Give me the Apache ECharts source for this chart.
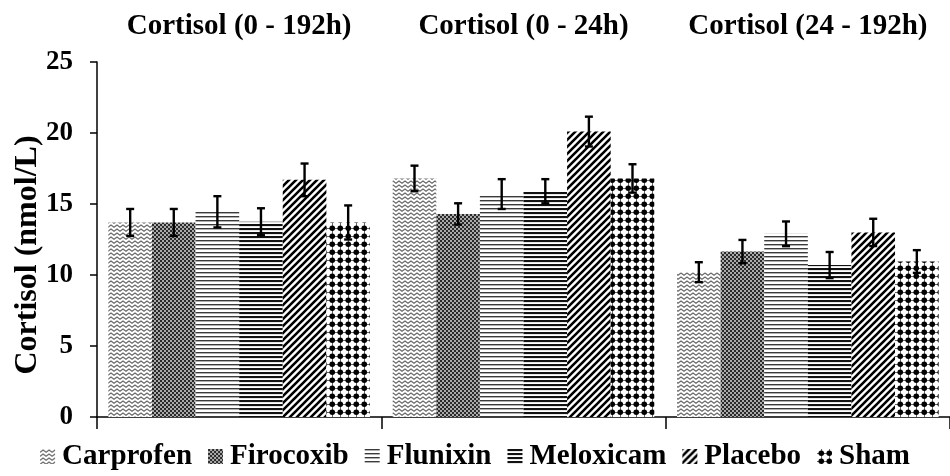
<!DOCTYPE html>
<html><head><meta charset="utf-8">
<script src="https://cdn.jsdelivr.net/npm/echarts@6/dist/echarts.min.js"></script>
<style>html,body{margin:0;padding:0;background:#fff;}#c{width:950px;height:476px;}</style>
</head><body><div id="c"></div>
<script>
var categories = ['Cortisol (0 - 192h)', 'Cortisol (0 - 24h)', 'Cortisol (24 - 192h)'];
var seriesNames = ['Carprofen', 'Firocoxib', 'Flunixin', 'Meloxicam', 'Placebo', 'Sham'];
var carprofen = [13.7, 16.8, 10.2];
var firocoxib = [13.7, 14.3, 11.65];
var flunixin = [14.45, 15.7, 12.9];
var meloxicam = [13.75, 15.9, 10.7];
var placebo = [16.7, 20.1, 13.0];
var sham = [13.7, 16.8, 10.95];
var carprofenErr = [0.95, 0.9, 0.7];
var firocoxibErr = [0.95, 0.75, 0.82];
var flunixinErr = [1.1, 1.05, 0.87];
var meloxicamErr = [0.95, 0.85, 0.92];
var placeboErr = [1.15, 1.05, 0.96];
var shamErr = [1.2, 1.0, 0.8];
var yTicks = [0, 5, 10, 15, 20, 25];
var yAxisTitle = 'Cortisol (nmol/L)';

var values = [carprofen, firocoxib, flunixin, meloxicam, placebo, sham];
var errors = [carprofenErr, firocoxibErr, flunixinErr, meloxicamErr, placeboErr, shamErr];

function mk(w, h, draw) {
  var c = document.createElement('canvas');
  c.width = w; c.height = h;
  var g = c.getContext('2d');
  g.fillStyle = '#fff'; g.fillRect(0, 0, w, h);
  draw(g, w, h);
  return { image: c, repeat: 'repeat' };
}
var patterns = [
  mk(6, 4, function (g) { g.strokeStyle = '#666'; g.lineWidth = 1.1; g.beginPath(); g.moveTo(-3, 1); g.lineTo(0, 3.2); g.lineTo(3, 1); g.lineTo(6, 3.2); g.lineTo(9, 1); g.stroke(); }),
  mk(4, 4, function (g) { g.fillStyle = '#aaa'; g.fillRect(0, 0, 4, 4); g.fillStyle = '#2a2a2a'; g.fillRect(0, 0, 2, 2); g.fillRect(2, 2, 2, 2); }),
  mk(4, 4, function (g) { g.fillStyle = '#3a3a3a'; g.fillRect(0, 0, 4, 1.4); }),
  mk(4, 4, function (g) { g.fillStyle = '#111'; g.fillRect(0, 0, 4, 2.1); }),
  mk(7, 7, function (g) { g.strokeStyle = '#000'; g.lineWidth = 2.6; g.beginPath();
    for (var k = -2; k <= 2; k++) { g.moveTo(k * 7 - 1, 8); g.lineTo(k * 7 + 8, -1); } g.stroke(); }),
  mk(8.5, 8.5, function (g) { g.fillStyle = '#000'; g.beginPath(); g.arc(4.25, 4.25, 2.8, 0, Math.PI * 2); g.fill();
    g.fillRect(4, 0, 0.6, 8.5); g.fillRect(0, 4, 8.5, 0.6); })
];

var GAP = 0.08;
var series = [];
seriesNames.forEach(function (name, i) {
  series.push({
    name: name, type: 'bar', data: values[i], barGap: '0%', barCategoryGap: (GAP * 100) + '%',
    itemStyle: { color: patterns[i] }, animation: false, z: 2
  });
});
seriesNames.forEach(function (name, i) {
  var data = values[i].map(function (v, j) { return [j, v, errors[i][j]]; });
  series.push({
    type: 'custom', name: name + ' err', data: data, z: 10, animation: false, silent: true,
    renderItem: function (params, api) {
      var j = api.value(0), v = api.value(1), e = api.value(2);
      var band = api.size([1, 0])[0];
      var bw = band * (1 - GAP) / 6;
      var center = api.coord([j, v]);
      var x = center[0] + (i - 2.5) * bw;
      var top = api.coord([j, v + e])[1];
      var bot = api.coord([j, v - e])[1];
      var cap = 4;
      var st = { stroke: '#000', lineWidth: 2.4 };
      return { type: 'group', children: [
        { type: 'line', shape: { x1: x, y1: top, x2: x, y2: bot }, style: st },
        { type: 'line', shape: { x1: x - cap, y1: top, x2: x + cap, y2: top }, style: st },
        { type: 'line', shape: { x1: x - cap, y1: bot, x2: x + cap, y2: bot }, style: st }
      ] };
    }
  });
});

var font = 'Liberation Serif';
var chart = echarts.init(document.getElementById('c'), null, { renderer: 'canvas' });
chart.setOption({
  backgroundColor: '#fff',
  textStyle: { fontFamily: font },
  grid: { left: 97, right: -8, top: 62, bottom: 59, containLabel: false },
  legend: {
    data: seriesNames, bottom: 0, left: 'center', itemWidth: 15, itemHeight: 15, itemGap: 16,
    textStyle: { fontFamily: font, fontWeight: 'bold', fontSize: 29, color: '#000', padding: [0, 0, 0, 2] },
    icon: 'rect'
  },
  graphic: [{
    type: 'text', x: 28, y: 255, rotation: Math.PI / 2,
    style: { text: yAxisTitle, font: 'bold 32px "Liberation Serif"', fill: '#000', align: 'center', verticalAlign: 'middle' }
  }],
  xAxis: [{
    type: 'category', data: categories, position: 'bottom',
    axisLine: { lineStyle: { color: '#000', width: 1.5 } },
    axisTick: { show: true, length: 12, inside: false, lineStyle: { color: '#000', width: 1.5 } },
    axisLabel: { show: false }
  }, {
    type: 'category', data: categories, position: 'top', offset: 13,
    axisLine: { show: false }, axisTick: { show: false },
    axisLabel: { interval: 0, hideOverlap: false, fontFamily: font, fontWeight: 'bold', fontSize: 29, color: '#000' }
  }],
  yAxis: {
    type: 'value', min: 0, max: 25, interval: 5,
    axisLine: { show: true, lineStyle: { color: '#000', width: 1.5 } },
    axisTick: { show: true, length: 7, lineStyle: { color: '#000', width: 1.5 } },
    axisLabel: { fontFamily: font, fontWeight: 'bold', fontSize: 27, color: '#000', margin: 24,
      formatter: function (v) { return yTicks.indexOf(v) >= 0 ? String(v) : ''; } },
    splitLine: { show: false }
  },
  series: series
});
</script></body></html>
